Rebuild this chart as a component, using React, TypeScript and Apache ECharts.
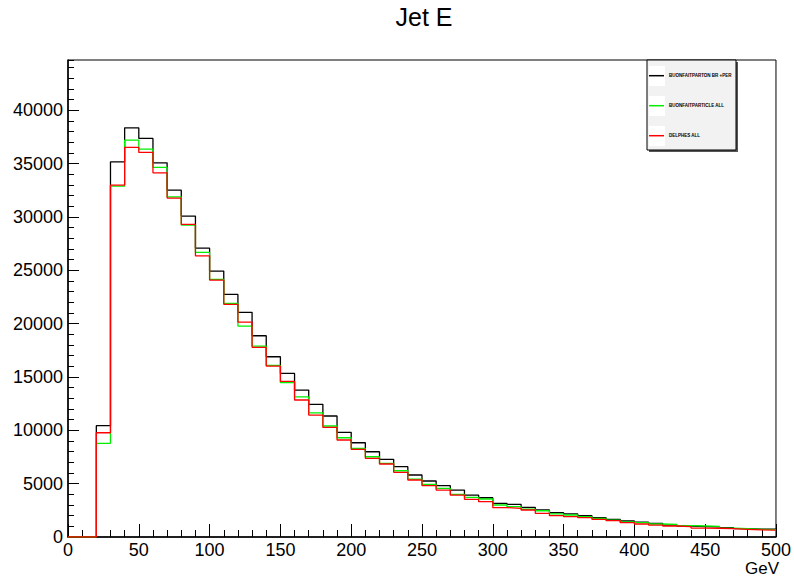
import React, { useEffect, useRef } from "react";
import * as echarts from "echarts";

const title = "Jet E";
const xUnit = "GeV";
const binWidth = 10;
const seriesNames = ["BUONFAITPARTON BR +PER", "BUONFAITPARTICLE ALL", "DELPHES ALL"];
const seriesColors = ["#000000", "#00ee00", "#ff0000"];

const blackValues = [0, 0, 10430, 35160, 38340, 37350, 35060, 32500, 30070, 27070, 24920, 22730, 21050, 18860, 16890, 15330, 13770, 12430, 11340, 9810, 8830, 7990, 7280, 6590, 5810, 5250, 4810, 4400, 3930, 3680, 3160, 3060, 2780, 2530, 2280, 2160, 2000, 1810, 1660, 1500, 1380, 1280, 1120, 1030, 970, 960, 870, 780, 740, 730];
const greenValues = [0, 0, 8780, 32880, 37190, 36350, 34630, 31880, 29230, 26670, 24140, 21890, 19770, 17890, 16080, 14460, 13140, 11640, 10400, 9300, 8310, 7520, 6900, 6210, 5430, 4940, 4560, 4000, 3720, 3560, 3000, 2840, 2600, 2460, 2160, 2060, 1900, 1750, 1590, 1420, 1340, 1220, 1190, 1060, 1030, 1000, 840, 780, 720, 700];
const redValues = [0, 0, 9770, 32980, 36510, 36040, 34130, 31760, 29290, 26350, 24080, 21800, 20140, 17770, 16020, 14580, 12840, 11430, 10270, 9090, 8220, 7370, 6840, 6060, 5340, 4810, 4400, 3930, 3530, 3310, 2750, 2690, 2530, 2220, 2000, 1900, 1810, 1660, 1530, 1340, 1220, 1120, 1030, 970, 840, 820, 780, 720, 660, 650];

const xMin = 0;
const xMax = 500;
const yMin = 0;
const yMax = 44700;

function toSteps(values: number[]) {
  const pts: [number, number][] = values.map((v, i) => [xMin + i * binWidth, v]);
  pts.push([xMin + values.length * binWidth, values[values.length - 1]]);
  return pts;
}

const FONT = "Liberation Sans, Arial, Helvetica, sans-serif";

export default function App() {
  const ref = useRef<HTMLDivElement>(null);
  useEffect(() => {
    if (!ref.current) return;
    const chart = echarts.init(ref.current, undefined, { renderer: "svg" });
    const allValues = [blackValues, greenValues, redValues];
    const gLeft = 68, gRight = 14, gTop = 60, gBottom = 42;
    const W = 794;
    chart.setOption({
      animation: false,
      backgroundColor: "#ffffff",
      title: {
        text: title,
        left: (gLeft + (W - gRight)) / 2,
        textAlign: "center",
        top: 4,
        padding: 0,
        textStyle: { fontFamily: FONT, fontSize: 25, fontWeight: "normal", color: "#000" },
      },
      grid: {
        left: gLeft, right: gRight, top: gTop, bottom: gBottom,
        show: true, borderColor: "#000", borderWidth: 1, backgroundColor: "#fff",
      },
      legend: {
        orient: "vertical",
        left: 649,
        top: 68.7,
        padding: 0,
        icon: "rect",
        itemWidth: 15,
        itemHeight: 1.5,
        itemGap: 16,
        data: seriesNames,
        textStyle: { fontFamily: FONT, fontSize: 4.5, lineHeight: 14, fontWeight: "bold", color: "#000" },
        z: 10,
      },
      graphic: [
        { type: "rect", shape: { x: 649, y: 62, width: 89, height: 90 }, style: { fill: "#555" }, z: 1 },
        { type: "rect", shape: { x: 647, y: 60, width: 89, height: 90 }, style: { fill: "#f2f2f2", stroke: "#000", lineWidth: 1 }, z: 2 },
        ...[0, 1, 2].map((i) => ({
          type: "rect",
          shape: { x: 649, y: 66 + 30 * i, width: 16, height: 20 },
          style: { fill: "#ffffff" },
          z: 3,
        })),
        {
          type: "text",
          right: gRight + 1,
          top: 560,
          style: { text: xUnit, fontFamily: FONT, fontSize: 17, fill: "#000" },
        },
      ],
      xAxis: [
        {
          type: "value", min: xMin, max: xMax, interval: 50, position: "bottom",
          axisLine: { show: true, lineStyle: { color: "#000", width: 1.5 } },
          axisTick: { show: true, inside: true, length: 13, lineStyle: { color: "#000", width: 1 } },
          minorTick: { show: true, splitNumber: 5, length: 7, lineStyle: { color: "#000", width: 1 } },
          axisLabel: { show: true, margin: 4, fontFamily: FONT, fontSize: 18, color: "#000", showMinLabel: true, showMaxLabel: true, formatter: (v: number) => String(v) },
          splitLine: { show: false },
        },
      ],
      yAxis: [
        {
          type: "value", min: yMin, max: yMax, interval: 5000, position: "left",
          axisLine: { show: true, lineStyle: { color: "#000", width: 1.5 } },
          axisTick: { show: true, inside: true, length: 11, lineStyle: { color: "#000", width: 1 } },
          axisLabel: { show: true, margin: 5, fontFamily: FONT, fontSize: 18, color: "#000", showMaxLabel: false, formatter: (v: number) => String(v) },
          splitLine: { show: false },
        },
        {
          type: "value", min: yMin, max: yMax, interval: 1000, position: "left", offset: 0,
          axisLine: { show: false },
          axisTick: { show: true, inside: true, length: 6, lineStyle: { color: "#000", width: 1 } },
          axisLabel: { show: false },
          splitLine: { show: false },
        },
      ],
      series: seriesNames.map((name, i) => ({
        name,
        type: "line",
        step: "end",
        xAxisIndex: 0,
        yAxisIndex: 0,
        symbol: "none",
        data: toSteps(allValues[i]),
        lineStyle: { color: seriesColors[i], width: 1.3 },
        itemStyle: { color: seriesColors[i] },
        z: 3 + i,
      })),
    });
    return () => chart.dispose();
  }, []);
  return <div ref={ref} style={{ position: "fixed", left: 0, top: 0, width: 794, height: 579 }} />;
}
